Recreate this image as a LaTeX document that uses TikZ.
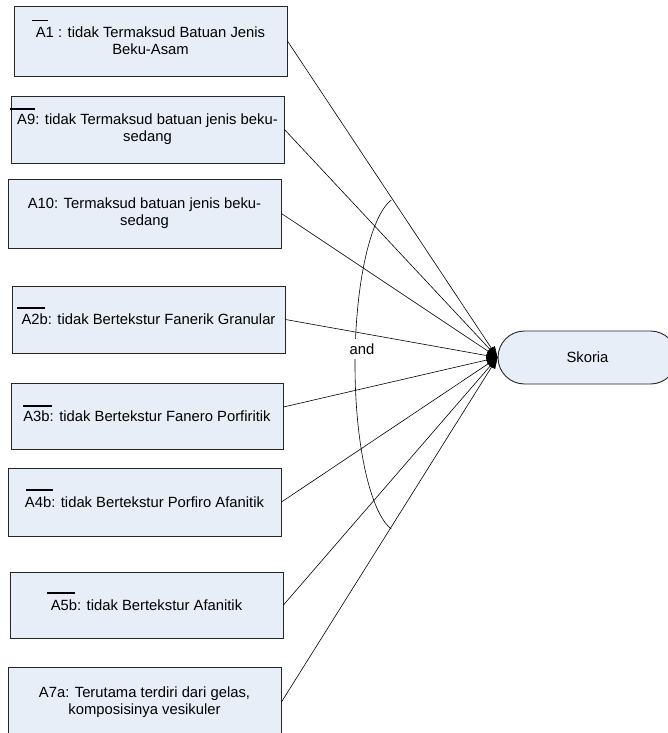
\documentclass[tikz,border=0pt]{standalone}
\usepackage{fontspec}
\setmainfont{Liberation Sans}
\usetikzlibrary{arrows.meta}
\definecolor{boxfill}{RGB}{232,238,247}
\begin{document}
\begin{tikzpicture}[x=1pt,y=-1pt,
  box/.style={draw=black!85, fill=boxfill, line width=0.9pt, inner sep=0pt,
    align=center, font=\fontsize{14.8}{17}\selectfont},
  goal/.style={draw=black!85, fill=boxfill, line width=0.9pt, rounded corners=26.5pt,
    minimum width=179pt, minimum height=53pt, inner sep=0pt, font=\fontsize{14.8}{17}\selectfont},
  link/.style={line width=0.6pt, -{Triangle[length=11pt,width=8pt]}},
  negbar/.style={line width=1.6pt},
  andarc/.style={line width=0.6pt}]
\useasboundingbox (0,0) rectangle (667,733);

% premise boxes
\node[box, minimum width=273pt, minimum height=70pt] (a1) at (150.5,41)
  {A1 : tidak Termaksud Batuan Jenis\\Beku-Asam};
\node[box, minimum width=273pt, minimum height=67pt] (a9) at (147.5,129.5)
  {A9: tidak Termaksud batuan jenis beku-\\sedang};
\node[box, minimum width=273pt, minimum height=69pt] (a10) at (144.5,213.5)
  {A10: Termaksud batuan jenis beku-\\sedang};
\node[box, minimum width=273pt, minimum height=67pt] (a2b) at (148.5,319.5)
  {A2b: tidak Bertekstur Fanerik Granular};
\node[box, minimum width=272pt, minimum height=66pt] (a3b) at (147,416)
  {A3b: tidak Bertekstur Fanero Porfiritik};
\node[box, minimum width=273pt, minimum height=68pt] (a4b) at (144.5,502)
  {A4b: tidak Bertekstur Porfiro Afanitik};
\node[box, minimum width=273pt, minimum height=66pt] (a5b) at (146.5,605)
  {A5b: tidak Bertekstur Afanitik};
\node[box, minimum width=273pt, minimum height=70pt] (a7a) at (144.5,702)
  {A7a: Terutama terdiri dari gelas,\\komposisinya vesikuler};

% negation bars over the premise names
\draw[negbar] (31.7,20.7) -- (48.3,20.7);
\draw[negbar] (10,109) -- (35,109);
\draw[negbar] (17,308) -- (45,308);
\draw[negbar] (23,405.7) -- (52,405.7);
\draw[negbar] (26,490) -- (53,490);
\draw[negbar] (47,593) -- (75,593);

% conclusion
\node[goal] (sk) at (587.5,357.5) {Skoria};

% conjunction arc with its label
\draw[andarc] plot[domain=-78.3:78.3, samples=80, smooth, variable=\t]
  ({400.6-45.6*cos(\t)}, {364.5+168*sin(\t)});
\node[fill=white, inner xsep=1pt, inner ysep=5pt, font=\fontsize{14.8}{17}\selectfont]
  (andlbl) at (362,349) {and};

% rule connectors
\draw[link] (a1.east) -- (sk.west);
\draw[link] (a9.east) -- (sk.west);
\draw[link] (a10.east) -- (sk.west);
\draw[link] (a2b.east) -- (sk.west);
\draw[link] ([yshift=9pt]a3b.east) -- (sk.west);
\draw[link] (a4b.east) -- (sk.west);
\draw[link] (a5b.east) -- (sk.west);
\draw[link] (a7a.east) -- (sk.west);
\end{tikzpicture}
\end{document}
